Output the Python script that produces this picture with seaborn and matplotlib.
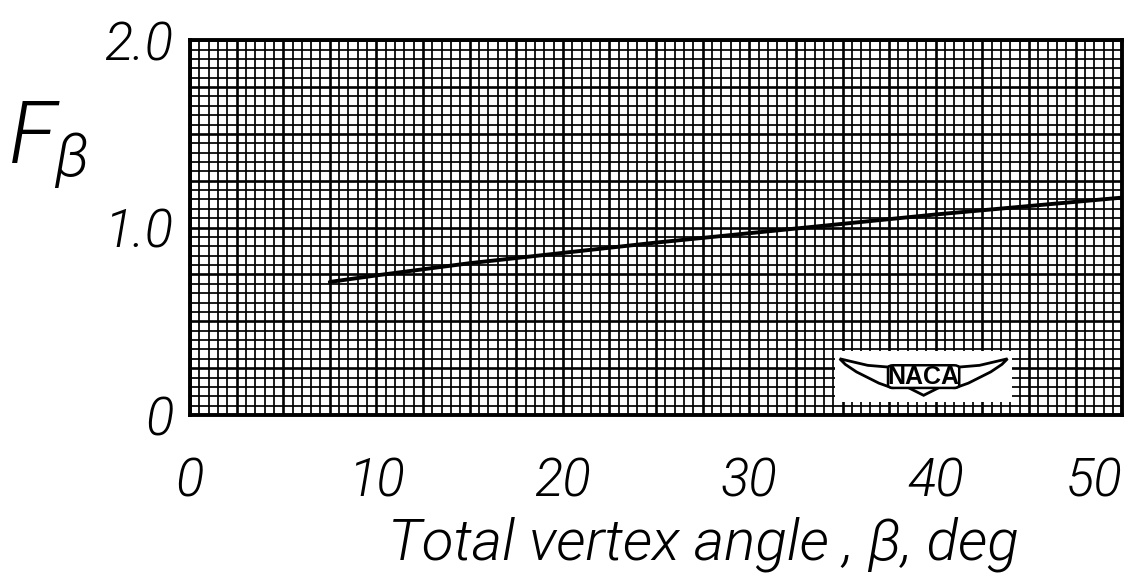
import matplotlib
matplotlib.use("Agg")
import matplotlib.pyplot as plt
import numpy as np
import pandas as pd
import seaborn as sns
from matplotlib.patches import Rectangle, Polygon, FancyBboxPatch
from matplotlib.ticker import FixedLocator

# Correction factor F_beta against total vertex angle
angle_deg = [7.5, 10, 15, 20, 25, 30, 35, 40, 45, 50]
f_beta = [0.71, 0.745, 0.81, 0.865, 0.92, 0.97, 1.02, 1.07, 1.115, 1.16]

x_ticks = [0, 10, 20, 30, 40, 50]
x_tick_labels = ["0", "10", "20", "30", "40", "50"]
y_ticks = [0, 1.0, 2.0]
y_tick_labels = ["0", "1.0", "2.0"]

x_label = "Total vertex angle , β, deg"
y_label = r"$F_{\beta}$"

sns.set_style("white")
plt.rcParams["font.family"] = ["Roboto", "DejaVu Sans"]
plt.rcParams["font.weight"] = 300
plt.rcParams["text.color"] = "black"
plt.rcParams["xtick.color"] = "black"
plt.rcParams["ytick.color"] = "black"
plt.rcParams["axes.labelcolor"] = "black"
plt.rcParams["mathtext.fontset"] = "custom"
plt.rcParams["mathtext.it"] = "Roboto:italic"
plt.rcParams["mathtext.rm"] = "Roboto"

df = pd.DataFrame({"angle": angle_deg, "F": f_beta})

fig = plt.figure(figsize=(11.48, 5.74), dpi=100)
ax = fig.add_axes([0.1655, 0.277, 0.812, 0.653])

# graph-paper grid
ax.set_xlim(0, 50)
ax.set_ylim(0, 2.0)
for xv in np.arange(0, 50.01, 0.5):
    heavy = abs(xv / 2.5 - round(xv / 2.5)) < 1e-6
    ax.axvline(xv, color="black", lw=1.9 if heavy else 1.25, zorder=1)
for yv in np.arange(0, 2.001, 0.05):
    heavy = abs(yv / 0.25 - round(yv / 0.25)) < 1e-6
    ax.axhline(yv, color="black", lw=1.9 if heavy else 1.25, zorder=1)

sns.lineplot(data=df, x="angle", y="F", color="black", lw=2.8, ax=ax, zorder=5)

# NACA emblem in a white patch
ax.add_patch(Rectangle((34.6, 0.07), 9.5, 0.27, facecolor="white",
                       edgecolor="none", zorder=6))
cx, cy = 39.35, 0.2
left_wing = [(cx - 1.2, cy + 0.05), (cx - 3.0, cy + 0.065), (cx - 4.5, cy + 0.1),
             (cx - 4.2, cy + 0.07), (cx - 3.6, cy + 0.03), (cx - 3.0, cy - 0.0),
             (cx - 2.4, cy - 0.03), (cx - 1.7, cy - 0.055), (cx - 0.9, cy - 0.05),
             (cx, cy - 0.095)]
right_wing = [(2 * cx - px, py) for px, py in left_wing[::-1]]
ax.add_patch(Polygon(left_wing + right_wing[1:], closed=True, facecolor="white",
                     edgecolor="black", lw=2.0, zorder=7))
ax.add_patch(FancyBboxPatch((cx - 1.9, cy - 0.055), 3.8, 0.12,
                            boxstyle="round,pad=0.01,rounding_size=0.3",
                            facecolor="white", edgecolor="black", lw=1.8,
                            zorder=8, mutation_aspect=0.05))
ax.text(cx, cy + 0.005, "NACA", ha="center", va="center", fontsize=18,
        fontweight="bold", family=["Liberation Sans", "DejaVu Sans"], zorder=9)

for s in ax.spines.values():
    s.set_visible(True)
    s.set_color("black")
    s.set_linewidth(2.8)
    s.set_zorder(10)

ax.xaxis.set_major_locator(FixedLocator(x_ticks))
ax.yaxis.set_major_locator(FixedLocator(y_ticks))
ax.set_xticklabels(x_tick_labels)
ax.set_yticklabels(y_tick_labels)
ax.tick_params(axis="both", length=0)
ax.tick_params(axis="x", pad=30, labelsize=38)
ax.tick_params(axis="y", pad=12, labelsize=38)
for lab in ax.get_xticklabels() + ax.get_yticklabels():
    lab.set_fontstyle("italic")
    lab.set_fontweight(300)
ax.get_xticklabels()[-1].set_horizontalalignment("right")

ax.set_xlabel(x_label, fontsize=42, fontstyle="italic", fontweight=300)
ax.xaxis.set_label_coords(0.551, -0.27)
ax.set_ylabel(y_label, fontsize=62, rotation=0, ha="center", va="center")
ax.yaxis.set_label_coords(-0.152, 0.72)

fig.savefig("out.png", dpi=100, facecolor="white")
